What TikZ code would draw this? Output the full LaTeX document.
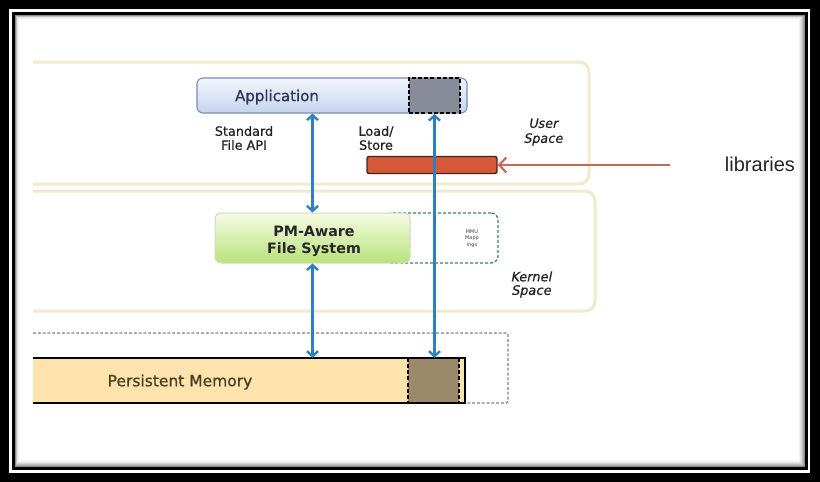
\documentclass[tikz,border=0pt]{standalone}
\usepackage{fontspec}
\setmainfont{DejaVu Sans}
\newfontfamily\libfont{Liberation Sans}
\newfontfamily\medfont[FakeBold=0.7]{DejaVu Sans}
\newfontfamily\meditfont[FakeBold=0.6,FakeSlant=0.2]{DejaVu Sans}
\usetikzlibrary{arrows.meta}
\definecolor{arrowblue}{RGB}{47,128,192}
\definecolor{apptop}{RGB}{242,246,253}
\definecolor{appbot}{RGB}{196,212,239}
\definecolor{appedge}{RGB}{120,140,185}
\definecolor{appsqc}{RGB}{135,139,154}
\definecolor{libred}{RGB}{214,90,58}
\definecolor{libedge}{RGB}{74,36,24}
\definecolor{libarrow}{RGB}{196,106,85}
\definecolor{panelc}{RGB}{239,235,204}
\definecolor{pmtop}{RGB}{246,251,228}
\definecolor{pmbot}{RGB}{185,226,122}
\definecolor{pmedge}{RGB}{210,218,196}
\definecolor{mmuc}{RGB}{61,138,80}
\definecolor{memfill}{RGB}{254,227,173}
\definecolor{memtext}{RGB}{74,60,30}
\definecolor{memsq}{RGB}{155,138,105}
\definecolor{graydash}{RGB}{130,130,130}
\definecolor{apptext}{RGB}{44,52,87}
\definecolor{labtext}{RGB}{35,35,35}
\begin{document}
\begin{tikzpicture}[x=1pt,y=-1pt,
  panel/.style={draw=panelc, line width=3pt, rounded corners=10pt},
  appbox/.style={rounded corners=6pt, draw=appedge, line width=1.1pt, top color=apptop, bottom color=appbot, minimum width=270pt, minimum height=35pt, inner sep=0pt},
  sqbox/.style={fill=appsqc, draw=black, line width=2pt, dash pattern=on 4pt off 2.2pt, minimum width=51pt, minimum height=35pt, inner sep=0pt},
  fsbox/.style={rounded corners=6pt, draw=pmedge, line width=1pt, top color=pmtop, bottom color=pmbot, minimum width=195pt, minimum height=50pt, inner sep=0pt},
  mmubox/.style={rounded corners=7pt, draw=mmuc, line width=1.3pt, dash pattern=on 3pt off 2pt, minimum width=113pt, minimum height=50pt, inner sep=0pt},
  libbar/.style={rounded corners=2pt, fill=libred, draw=libedge, line width=1.4pt, minimum width=130pt, minimum height=17pt, inner sep=0pt},
  lbl/.style={text=labtext, align=center, font=\medfont\fontsize{12.8}{14}\selectfont, inner sep=0pt},
  spacelbl/.style={text=labtext, align=center, font=\meditfont\fontsize{12.8}{15}\selectfont, inner sep=0pt},
  bluearrow/.style={draw=arrowblue, line width=2.4pt, {Straight Barb[length=5pt,width=11pt]}-{Straight Barb[length=5pt,width=11pt]}},
]
\useasboundingbox (0,0) rectangle (820,482);
% frame
\fill[black] (0,0) rectangle (820,482);
\draw[white,line width=2.5pt] (10.5,10.5) rectangle (809,471.5);
\fill[white] (15,15) rectangle (805,467);
\foreach \i/\p in {0/45,1/34,2/25,3/17,4/10,5/5,6/2}{
  \draw[black!\p, line width=1pt] (15.5+0.6*\i, 15.5+0.6*\i) rectangle (804.5-\i, 466.5-\i);
}
% panels
\draw[panel] (33,62) -- (589,62) -- (589,184) -- (33,184);
\draw[panel] (33,191) -- (595,191) -- (595,311) -- (33,311);
% application
\node[appbox] (app) at (332,95.5) {};
\node[text=apptext, font=\medfont\fontsize{15}{16}\selectfont, inner sep=0pt] (apptxt) at (277,97) {Application};
\node[sqbox] (appsq) at (434.5,95.5) {};
% labels user space
\node[lbl] (stdapi) at (244,138) {Standard\\File API};
\node[lbl] (ldst) at (376,138) {Load/\\Store};
\node[spacelbl] (user) at (543,132) {User\\Space};
% libraries bar
\node[libbar] (lib) at (432,165) {};
\node[font=\libfont\fontsize{20}{22}\selectfont, text=black!85, inner sep=0pt] (libtxt) at (760,164) {libraries};
\coordinate (libtail) at (670,165);
\draw[libarrow, line width=2.2pt, -{Straight Barb[length=7pt,width=15pt]}] (libtail) -- (lib.east);
% kernel
\node[mmubox] (mmu) at (441.5,238) {};
\node[fsbox] (pmfs) at (312.5,238) {};
\node[font=\bfseries\fontsize{14.3}{17}\selectfont, text=black!85, align=center, inner sep=0pt] (pmtxt) at (314,241.5) {PM-Aware\\File System};
\node[font=\fontsize{5}{6.5}\selectfont, text=black!75, align=center, inner sep=0pt] (mmutxt) at (472,238.5) {MMU\\Mapp\\ings};
\node[spacelbl, font=\meditfont\fontsize{13}{13.5}\selectfont] (kern) at (531,284.5) {Kernel\\Space};
% persistent memory
\draw[graydash, line width=1.3pt, dash pattern=on 3pt off 1.8pt, rounded corners=2pt] (33,333) -- (508,333) -- (508,403) -- (465,403);
\fill[memfill] (33,358) rectangle (465,403);
\node[inner sep=0pt, minimum width=432pt, minimum height=45pt] (pm) at (249,380.5) {};
\node[fill=memsq, inner sep=0pt, minimum width=51pt, minimum height=45pt] (pmsq) at (433.5,380.5) {};
\draw[black, line width=2pt, dash pattern=on 4pt off 2.2pt] (pmsq.north west) -- (pmsq.south west);
\draw[black, line width=2pt, dash pattern=on 4pt off 2.2pt] (pmsq.north east) -- (pmsq.south east);
\draw[black, line width=2.2pt] (33,358) -- (465,358) -- (465,403) -- (33,403);
\node[text=memtext, font=\medfont\fontsize{15.5}{17}\selectfont, inner sep=0pt] (pmlabel) at (180,382) {Persistent Memory};
% blue arrows
\draw[bluearrow] (pmfs.north |- app.south) -- (pmfs.north);
\draw[bluearrow] (pmfs.south) -- (pmfs.south |- pm.north);
\draw[bluearrow] (appsq.south) -- (appsq.south |- pm.north);
\end{tikzpicture}
\end{document}
